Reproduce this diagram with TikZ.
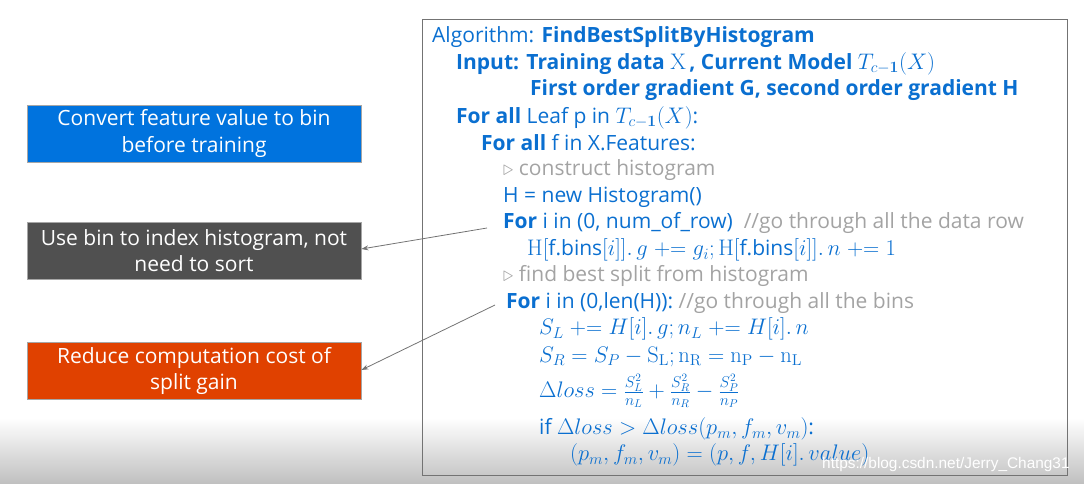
\documentclass[tikz,border=0pt]{standalone}
\usepackage{fix-cm}
\usepackage[no-math]{fontspec}
\setmainfont{Open Sans}
\newfontfamily\wmfont{Liberation Sans}
\usetikzlibrary{arrows.meta,shadings}
\definecolor{algblue}{HTML}{0A6FD0}
\definecolor{cmtgray}{HTML}{A3A3A3}
\definecolor{bxblue}{HTML}{0073DE}
\definecolor{bxgray}{HTML}{505050}
\definecolor{bxorange}{HTML}{E04100}
\newcommand{\bigmath}{\fontsize{22.5}{24}\selectfont}
\tikzset{
  leftbox/.style={draw=gray!70, line width=0.8pt, minimum width=334pt, minimum height=57pt,
    align=center, text=white, inner sep=0pt,
    font=\fontsize{21}{26.5}\selectfont},
  algline/.style={anchor=west, inner sep=0pt, text=algblue, font=\fontsize{21}{24}\selectfont},
  mathline/.style={algline, font=\bigmath},
  cmt/.style={text=cmtgray},
  conn/.style={draw=gray!90!black, line width=0.8pt, -{Stealth[length=7pt,width=5pt]}},
}
\begin{document}
\begin{tikzpicture}[x=1pt,y=-1pt]
\useasboundingbox (0,0) rectangle (1084,484);
% bottom gradient (video overlay)
\shade[top color=white, bottom color=black!25, shading angle=0] (0,418) rectangle (1084,484);
% algorithm frame
\node[draw=gray!90!black, line width=1pt, minimum width=645pt, minimum height=456pt, inner sep=0pt, anchor=north west] (frame) at (422,19) {};
% left boxes
\node[leftbox, fill=bxblue] (b1) at (194,133.5) {Convert feature value to bin\\before training};
\node[leftbox, fill=bxgray] (b2) at (194,250.5) {Use bin to index histogram, not\\need to sort};
\node[leftbox, fill=bxorange] (b3) at (194,371) {Reduce computation cost of\\split gain};
% algorithm lines
\node[algline] (l1) at (432,37) {Algorithm: \textbf{FindBestSplitByHistogram}};
\node[algline] (l2) at (456,64) {\textbf{Input: Training data} {\bigmath$\mathrm{X}$}\,\textbf{, Current Model} {\bigmath$T_{c\mathbf{-1}}(X)$}};
\node[algline] (l3) at (530,90) {\textbf{First order gradient G, second order gradient H}};
\node[algline] (l4) at (456,118) {\textbf{For all} Leaf p in {\bigmath$T_{c\mathbf{-1}}(X)$}:};
\node[algline] (l5) at (481,143) {\textbf{For all} f in X.Features:};
\node[algline, cmt] (l6) at (503,170) {$\triangleright$ construct histogram};
\node[algline] (l7) at (503,197) {H = new Histogram()};
\node[algline] (l8) at (503,223) {\textbf{For} i in (0, num\_of\_row)\ \ {\color{cmtgray}//go through all the data row}};
\node[mathline] (l9) at (527,250) {$\mathrm{H}[\mbox{\fontsize{21}{24}\selectfont f.bins}[i]].\,g\mathrel{+}= g_i;\mathrm{H}[\mbox{\fontsize{21}{24}\selectfont f.bins}[i]].\,n\mathrel{+}=1$};
\node[algline, cmt] (l10) at (503,276) {$\triangleright$ find best split from histogram};
\node[algline] (l11) at (506,303) {\textbf{For} i in (0,len(H)): {\color{cmtgray}//go through all the bins}};
\node[mathline] (l12) at (539,329) {$S_L\mathrel{+}=H[i].\,g;n_L\mathrel{+}=H[i].\,n$};
\node[mathline] (l13) at (539,357) {$S_R=S_P-\mathrm{S_L};\mathrm{n_R}=\mathrm{n_P}-\mathrm{n_L}$};
\node[mathline] (l14) at (539,391) {$\Delta loss=\frac{S_L^2}{n_L}+\frac{S_R^2}{n_R}-\frac{S_P^2}{n_P}$};
\node[algline] (l15) at (539,429) {if {\bigmath$\Delta loss>\Delta loss(p_m,f_m,v_m)$}:};
\node[mathline] (l16) at (570,455) {$(p_m,f_m,v_m)=(p,f,H[i].\,value)$};
% connectors
\coordinate (s1) at (487,228);
\coordinate (s2) at (495,305);
\draw[conn] (s1) -- (b2.east |- 0,249);
\draw[conn] (s2) -- (b3.east |- 0,370);
% watermark
\node[anchor=west, inner sep=0pt, text=white, font=\wmfont\fontsize{15.4}{17}\selectfont] (wm) at (822,465) {https://blog.csdn.net/Jerry\_Chang31};
\end{tikzpicture}
\end{document}
